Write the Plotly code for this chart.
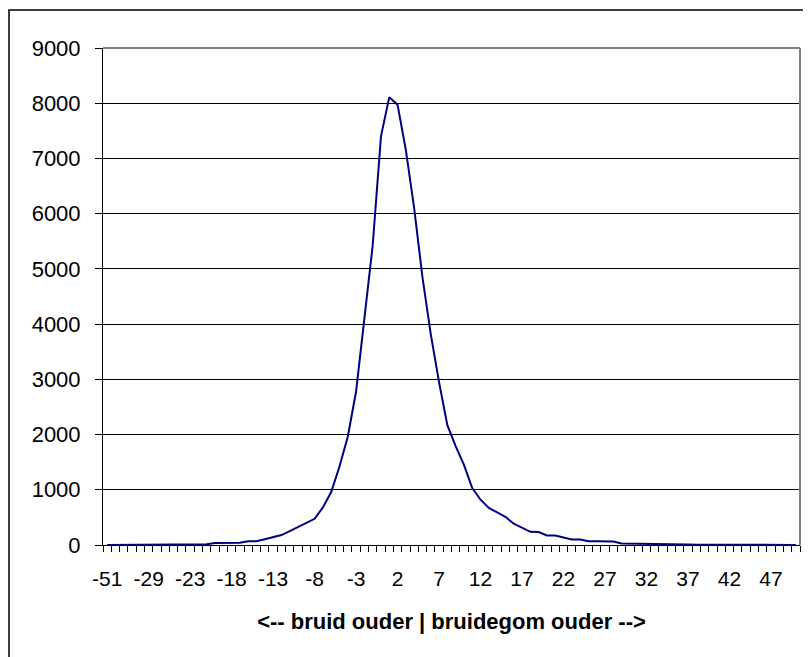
import plotly.graph_objects as go

categories = [-51, -38, -34, -32, -30, -29, -28, -26, -25, -24] + list(range(-23, 51))

counts = [1, 1, 1, 1, 2, 1, 2, 3, 4, 5,            # -51 .. -24
          6, 9, 12, 38, 40, 40, 41, 66, 69, 105,   # -23 .. -14
          140, 180, 250, 325, 385, 475, 680, 960,  # -13 .. -6
          1420, 1960, 2780, 4050, 5420, 7400,      # -5 .. 0
          8110, 7970, 7150, 6100, 4850, 3820,      # 1 .. 6
          2950, 2170, 1790, 1450, 1030, 820,       # 7 .. 12
          670, 590, 510, 385, 305, 238, 235,       # 13 .. 19
          172, 170, 130, 100, 98, 70, 68, 67, 65,  # 20 .. 28
          28, 27, 26, 25, 25, 24, 23, 22,          # 29 .. 36
          8, 6, 5, 4, 3, 3, 2, 2, 1, 1, 1, 1, 1, 1]  # 37 .. 50

yticks = [0, 1000, 2000, 3000, 4000, 5000, 6000, 7000, 8000, 9000]
label_step = 5

x_idx = list(range(len(categories)))
tickvals = x_idx[::label_step]
ticktext = [str(categories[i]) for i in tickvals]

fig = go.Figure()
fig.add_trace(go.Scatter(x=x_idx, y=counts, mode="lines",
                         line=dict(color="#000080", width=2),
                         hoverinfo="skip", showlegend=False))

L, T, W, H = 95, 40, 697, 497
font = "Liberation Sans, Arial, sans-serif"
fig.update_layout(
    width=811, height=657,
    margin=dict(l=L, r=811 - L - W, t=T, b=657 - T - H),
    paper_bgcolor="white", plot_bgcolor="white",
    font=dict(family=font, color="black"),
    xaxis=dict(
        range=[-0.5, len(categories) - 0.5],
        tickmode="array", tickvals=tickvals, ticktext=ticktext,
        ticks="", showgrid=False, zeroline=False,
        showline=True, linecolor="black", linewidth=1,
        tickfont=dict(size=21), ticklabelstandoff=15,
        minor=dict(tickmode="linear", tick0=-0.5, dtick=1, ticks="outside",
                   ticklen=6, tickcolor="black", tickwidth=1, showgrid=False),
        title=dict(text="<b><-- bruid ouder | bruidegom ouder --></b>",
                   font=dict(size=22), standoff=24),
    ),
    yaxis=dict(
        range=[0, 9000], tickmode="array", tickvals=yticks,
        ticks="outside", ticklen=7, tickcolor="black",
        showgrid=True, gridcolor="black", gridwidth=1,
        zeroline=False, showline=True, linecolor="black", linewidth=1,
        tickfont=dict(size=22), ticklabelstandoff=10,
    ),
    shapes=[
        # plot area border (top/right, gray)
        dict(type="line", xref="paper", yref="paper", x0=0, x1=1, y0=1, y1=1,
             line=dict(color="#808080", width=2)),
        dict(type="line", xref="paper", yref="paper", x0=1, x1=1, y0=0, y1=1,
             line=dict(color="#808080", width=2)),
        # outer chart frame
        dict(type="rect", xref="paper", yref="paper",
             x0=(1 - L) / W, x1=1.2, y0=-0.5, y1=(T + H - 2) / H,
             line=dict(color="black", width=1.5), layer="below"),
    ],
)

fig.write_html("out.html")
